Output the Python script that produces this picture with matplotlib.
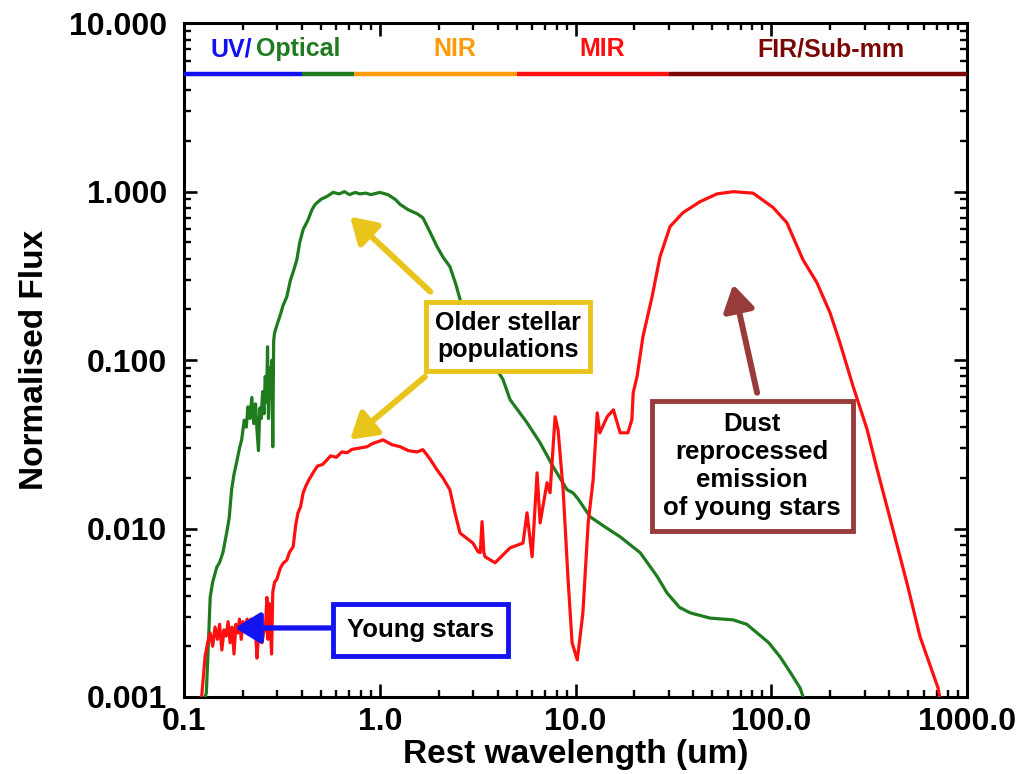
import matplotlib
matplotlib.use("Agg")
import matplotlib.pyplot as plt

plt.rcParams['font.family'] = ['Liberation Sans', 'DejaVu Sans']
plt.rcParams['font.weight'] = 'bold'

# --- SED curves: wavelength (um) vs normalised flux ---
old_wl = [0.125, 0.130, 0.133, 0.136, 0.140, 0.147, 0.152, 0.158, 0.165, 0.170,
          0.175, 0.180, 0.186, 0.192, 0.197, 0.203, 0.208, 0.212, 0.217, 0.222,
          0.227, 0.232, 0.236, 0.240, 0.244, 0.248, 0.252, 0.256, 0.260, 0.264,
          0.267, 0.270, 0.274, 0.278, 0.281, 0.284, 0.287, 0.290, 0.295, 0.30,
          0.31, 0.32, 0.335, 0.35, 0.36, 0.377, 0.39, 0.406, 0.43, 0.45,
          0.467, 0.50, 0.54, 0.577, 0.62, 0.66, 0.70, 0.75, 0.79, 0.85,
          0.90, 1.0, 1.1, 1.2, 1.27, 1.4, 1.55, 1.66, 1.8, 1.96,
          2.1, 2.28, 2.45, 2.57, 2.9, 3.25, 3.7, 4.26, 4.63, 5.1,
          5.65, 6.59, 7.68, 9.05, 9.7, 10.3, 11.86, 14.0, 16.9, 21.4,
          26.1, 29.3, 34.0, 38.5, 48.6, 63.8, 75.0, 84.6, 97.0, 110.9,
          125.0, 140.3, 150.0]
old_flux = [0.0009, 0.00106, 0.0020, 0.0039, 0.0048, 0.0059, 0.0063, 0.0072, 0.0094, 0.0115,
            0.0170, 0.0210, 0.0250, 0.0300, 0.0337, 0.0440, 0.0400, 0.0528, 0.0450, 0.0600,
            0.0420, 0.0550, 0.0380, 0.0290, 0.0520, 0.0450, 0.0650, 0.0480, 0.0800, 0.0560,
            0.1200, 0.0450, 0.0900, 0.0600, 0.1000, 0.0306, 0.1300, 0.1450, 0.155, 0.165,
            0.185, 0.21, 0.238, 0.30, 0.33, 0.395, 0.50, 0.596, 0.68, 0.78,
            0.838, 0.90, 0.94, 0.99, 0.97, 1.00, 0.96, 0.99, 0.97, 0.98,
            0.96, 0.99, 0.96, 0.90, 0.84, 0.78, 0.74, 0.70, 0.58, 0.472,
            0.41, 0.359, 0.28, 0.229, 0.17, 0.132, 0.10, 0.0766, 0.0582, 0.050,
            0.0425, 0.0323, 0.0233, 0.0170, 0.0163, 0.0150, 0.01175, 0.0103, 0.00893, 0.00718,
            0.0052, 0.00415, 0.0034, 0.00316, 0.00294, 0.00287, 0.0027, 0.0024, 0.0021, 0.00173,
            0.0014, 0.00113, 0.0009]

young_wl = [0.118, 0.123, 0.128, 0.132, 0.136, 0.140, 0.144, 0.148, 0.152, 0.156,
            0.160, 0.164, 0.168, 0.172, 0.176, 0.180, 0.184, 0.188, 0.192, 0.196,
            0.200, 0.205, 0.210, 0.215, 0.220, 0.226, 0.232, 0.236, 0.240, 0.245,
            0.250, 0.255, 0.260, 0.265, 0.268, 0.272, 0.276, 0.280, 0.284, 0.290,
            0.298, 0.310, 0.320, 0.335, 0.345, 0.361, 0.372, 0.382, 0.394, 0.406,
            0.42, 0.435, 0.456, 0.48, 0.51, 0.538, 0.56, 0.60, 0.64, 0.681,
            0.72, 0.78, 0.861, 0.92, 1.04, 1.15, 1.27, 1.40, 1.55, 1.66,
            1.80, 1.96, 2.10, 2.28, 2.42, 2.57, 2.99, 3.18, 3.26, 3.33,
            3.40, 3.45, 3.88, 4.63, 5.39, 5.65, 6.0, 6.36, 6.59, 7.15,
            7.41, 7.86, 8.14, 8.64, 9.16, 9.6, 10.2, 10.5, 10.9, 11.6,
            12.3, 12.9, 13.3, 14.5, 15.6, 16.9, 18.5, 19.4, 19.7, 20.6,
            22.1, 24.6, 27.0, 30.4, 35.4, 43.3, 52.8, 63.8, 80.7, 102.0,
            120.0, 145.0, 171.0, 199.5, 224.0, 262.0, 308.0, 347.0, 404.0, 494.0,
            575.0, 711.0, 750.0]
young_flux = [0.0008, 0.0010, 0.00173, 0.0021, 0.0024, 0.0020, 0.0026, 0.0022, 0.0027, 0.0019,
              0.0025, 0.0023, 0.0028, 0.0021, 0.0026, 0.0018, 0.0027, 0.0024, 0.0029, 0.0022,
              0.0028, 0.0025, 0.0029, 0.0026, 0.0029, 0.0027, 0.0024, 0.0017, 0.0023, 0.0026,
              0.0021, 0.0024, 0.0025, 0.0039, 0.0022, 0.0036, 0.0027, 0.0018, 0.0042, 0.0048,
              0.0050, 0.0058, 0.0062, 0.0065, 0.0072, 0.0078, 0.0105, 0.0124, 0.0135, 0.0163,
              0.0180, 0.0195, 0.0214, 0.0235, 0.0240, 0.0256, 0.0270, 0.0265, 0.0285, 0.0282,
              0.0295, 0.0300, 0.0306, 0.0320, 0.0336, 0.0315, 0.0306, 0.0290, 0.0285, 0.0294,
              0.0260, 0.0223, 0.0200, 0.0170, 0.0124, 0.0094, 0.0082, 0.00727, 0.0072, 0.0110,
              0.0072, 0.0068, 0.00626, 0.00768, 0.0082, 0.0124, 0.0068, 0.0214, 0.0108, 0.0187,
              0.0163, 0.0461, 0.0386, 0.0170, 0.00496, 0.0021, 0.00166, 0.00218, 0.00316, 0.0108,
              0.0195, 0.0486, 0.037, 0.0461, 0.0507, 0.037, 0.037, 0.0443, 0.064, 0.0796,
              0.138, 0.238, 0.411, 0.621, 0.751, 0.873, 0.97, 1.0, 0.98, 0.806,
              0.655, 0.395, 0.288, 0.191, 0.127, 0.0695, 0.039, 0.0225, 0.0115, 0.0047,
              0.00228, 0.00113, 0.0008]

# --- wavelength regimes shown along the top ---
band_edges = [0.1, 0.4, 0.74, 5.0, 30.0, 1000.0]
band_colors = ['#1010f0', '#1e7b1e', '#ff9a0a', '#ff1010', '#7a0606']
band_level = 5.0

x_ticks = [0.1, 1.0, 10.0, 100.0, 1000.0]
x_labels = ['0.1', '1.0', '10.0', '100.0', '1000.0']
y_ticks = [0.001, 0.01, 0.1, 1.0, 10.0]
y_labels = ['0.001', '0.010', '0.100', '1.000', '10.000']

fig = plt.figure(figsize=(10.31, 7.74), dpi=100)
ax = fig.add_axes([0.1785, 0.0995, 0.7595, 0.8705])

ax.plot(old_wl, old_flux, color='#1e7b1e', lw=2.3, zorder=3)
ax.plot(young_wl, young_flux, color='#ff1010', lw=2.3, zorder=3)

for i, c in enumerate(band_colors):
    ax.plot(band_edges[i:i + 2], [band_level, band_level], color=c, lw=3.2,
            solid_capstyle='butt', zorder=4)

lab_y = 7.0
ax.text(0.222, lab_y, 'UV/', color='#1010f0', fontsize=18, ha='right', va='center')
ax.text(0.234, lab_y, 'Optical', color='#1e7b1e', fontsize=18, ha='left', va='center')
ax.text(2.42, lab_y, 'NIR', color='#ff9a0a', fontsize=18, ha='center', va='center')
ax.text(13.6, lab_y, 'MIR', color='#ff1010', fontsize=18, ha='center', va='center')
ax.text(202, lab_y, 'FIR/Sub-mm', color='#7a0606', fontsize=18, ha='center', va='center')

# annotations
yellow = '#e9c41b'
blue = '#1414f0'
brown = '#973b3b'

def arrow(tip, tail, color, lw=4.3):
    ax.annotate('', xy=tip, xytext=tail,
                arrowprops=dict(arrowstyle='-|>,head_length=0.9,head_width=0.55',
                                mutation_scale=17, lw=lw, color=color,
                                shrinkA=0, shrinkB=0),
                zorder=5)

arrow((0.705, 0.711), (1.81, 0.255), yellow)
arrow((0.705, 0.0337), (1.70, 0.0796), yellow)
arrow((0.182, 0.00257), (0.56, 0.00257), blue, lw=3.8)
arrow((63.8, 0.281), (84.6, 0.064), brown)

ax.text(4.52, 0.138, 'Older stellar\npopulations', fontsize=18, ha='center',
        va='center', linespacing=1.15, zorder=6,
        bbox=dict(boxstyle='square,pad=0.35', fc='white', ec=yellow, lw=3.5))
ax.text(1.61, 0.0025, 'Young stars', fontsize=18.5, ha='center', va='center', zorder=6,
        bbox=dict(boxstyle='square,pad=0.55', fc='white', ec=blue, lw=3.5))
ax.text(79.8, 0.0235, 'Dust\nreprocessed\nemission\nof young stars', fontsize=18.5,
        ha='center', va='center', linespacing=1.2, zorder=6,
        bbox=dict(boxstyle='square,pad=0.45', fc='white', ec=brown, lw=3.5))

ax.set_xscale('log')
ax.set_yscale('log')
ax.set_xlim(0.1, 1000)
ax.set_ylim(0.001, 10)
ax.set_xticks(x_ticks, x_labels)
ax.set_yticks(y_ticks, y_labels)

ax.tick_params(which='both', direction='in', top=True, right=True)
ax.tick_params(which='major', length=9.5, width=1.9, labelsize=23)
ax.tick_params(which='minor', length=5, width=1.7)
ax.tick_params(axis='y', which='major', pad=12)
ax.tick_params(axis='x', which='major', pad=7)
for s in ax.spines.values():
    s.set_linewidth(2.2)

ax.set_xlabel('Rest wavelength (um)', fontsize=24, fontweight='bold', labelpad=2)
ax.set_ylabel('Normalised Flux', fontsize=24, fontweight='bold', labelpad=14)

fig.savefig('out.png', dpi=100)
